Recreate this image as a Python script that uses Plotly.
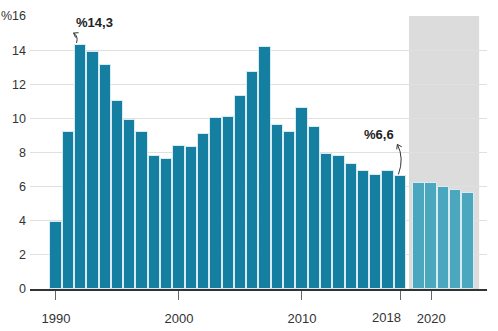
import plotly.graph_objects as go
import math

years_actual = list(range(1990, 2019))
values_actual = [3.9, 9.2, 14.3, 13.9, 13.1, 11.0, 9.9, 9.2, 7.8, 7.6,
                 8.4, 8.3, 9.1, 10.0, 10.1, 11.3, 12.7, 14.2, 9.6, 9.2,
                 10.6, 9.5, 7.9, 7.8, 7.3, 6.9, 6.7, 6.9, 6.6]
years_forecast = [2019, 2020, 2021, 2022, 2023]
values_forecast = [6.2, 6.2, 6.0, 5.8, 5.6]
forecast_gap = 0.5

x_tick_years = [1990, 2000, 2010, 2018, 2020]
y_tick_vals = [0, 2, 4, 6, 8, 10, 12, 14, 16]
y_tick_text = ["0", "2", "4", "6", "8", "10", "12", "14", "%16"]

FONT = "Liberation Sans, Arial, sans-serif"
DARK = "#147fa0"
LIGHT = "#4ba7bd"

# layout geometry
W, H = 498, 331
ML, MR, MT, MB = 30, 11, 16, 42
X0, X1 = 1987.89, 2025.04
Y0, Y1 = 0, 16
pw = W - ML - MR
ph = H - MT - MB


def px2d(px, py):
    x = X0 + (px - ML) / pw * (X1 - X0)
    y = Y1 - (py - MT) / ph * (Y1 - Y0)
    return x, y


def d2px(x, y):
    return ML + (x - X0) / (X1 - X0) * pw, MT + (Y1 - y) / (Y1 - Y0) * ph


def fx(y):
    return y + forecast_gap if y > 2018 else y


fig = go.Figure()
fig.add_trace(go.Bar(x=years_actual, y=values_actual, width=0.92,
                     marker=dict(color=DARK, line=dict(color="rgba(225,240,245,0.9)", width=1)),
                     hoverinfo="x+y"))
fig.add_trace(go.Bar(x=[fx(y) for y in years_forecast], y=values_forecast, width=0.92,
                     marker=dict(color=LIGHT, line=dict(color="rgba(225,240,245,0.9)", width=1)),
                     hoverinfo="y"))

shapes = []
# forecast band
shapes.append(dict(type="rect", xref="x", yref="y", x0=fx(2019) - 0.8, x1=fx(2023) + 0.9,
                   y0=0, y1=16, fillcolor="#dcdcdc", line=dict(width=0), layer="below"))


def curve_arrow(tail_px, ctrl_px, head_px):
    t = px2d(*tail_px)
    c = px2d(*ctrl_px)
    h = px2d(*head_px)
    path = f"M {t[0]},{t[1]} Q {c[0]},{c[1]} {h[0]},{h[1]}"
    out = [dict(type="path", xref="x", yref="y", path=path,
                line=dict(color="#333", width=1))]
    dx, dy = ctrl_px[0] - head_px[0], ctrl_px[1] - head_px[1]
    n = math.hypot(dx, dy)
    dx, dy = dx / n, dy / n
    L = 5
    pts = []
    for ang in (0.6, -0.6):
        rx = dx * math.cos(ang) - dy * math.sin(ang)
        ry = dx * math.sin(ang) + dy * math.cos(ang)
        pts.append(px2d(head_px[0] + rx * L, head_px[1] + ry * L))
    p = f"M {pts[0][0]},{pts[0][1]} L {h[0]},{h[1]} L {pts[1][0]},{pts[1][1]}"
    out.append(dict(type="path", xref="x", yref="y", path=p,
                    line=dict(color="#333", width=1)))
    return out


# arrows from the bar tops to the labels
bx, by = d2px(1992, values_actual[2])
shapes += curve_arrow((bx - 4, by - 2), (bx - 2, by - 9), (bx - 7, by - 12))
bx, by = d2px(2018, values_actual[-1])
shapes += curve_arrow((bx - 2, by - 2), (bx + 4, by - 18), (bx - 3, by - 32))

annotations = [
    dict(x=1993.13, y=15.6, xref="x", yref="y", text="<b>%14,3</b>", showarrow=False,
         font=dict(family=FONT, size=13, color="#222")),
    dict(x=2016.22, y=9.04, xref="x", yref="y", text="<b>%6,6</b>", showarrow=False,
         font=dict(family=FONT, size=13, color="#222")),
    dict(x=2021.18, y=16.5, xref="x", yref="y", text="Tahmin", showarrow=False,
         font=dict(family=FONT, size=13, color="#444")),
]

# x tick labels: 2018 is right-aligned to its tick so it does not collide with 2020
tick_text = []
for yr in x_tick_years:
    if yr == 2018:
        tick_text.append("")
        annotations.append(dict(x=fx(yr), y=1 - (317 - MT) / ph, xref="x", yref="paper",
                                text=str(yr), showarrow=False, xanchor="right", yanchor="middle",
                                xshift=3, font=dict(family=FONT, size=13, color="#333")))
    else:
        tick_text.append(str(yr))

fig.update_layout(
    width=W, height=H,
    margin=dict(l=ML, r=MR, t=MT, b=MB, autoexpand=False),
    paper_bgcolor="white", plot_bgcolor="rgba(0,0,0,0)",
    showlegend=False, barmode="overlay", bargap=0,
    font=dict(family=FONT, size=13, color="#333"),
    shapes=shapes, annotations=annotations,
    xaxis=dict(range=[X0, X1], tickmode="array", tickvals=[fx(y) for y in x_tick_years],
               ticktext=tick_text, ticks="outside", ticklen=9,
               tickcolor="#666", tickwidth=1, showgrid=False, zeroline=False,
               showline=True, linecolor="#333", linewidth=2, tickangle=0, automargin=False,
               tickfont=dict(family=FONT, size=13, color="#333"), ticklabelstandoff=7),
    yaxis=dict(range=[Y0, Y1], tickmode="array", tickvals=y_tick_vals, ticktext=y_tick_text,
               showgrid=True, gridcolor="#e0e0e0", gridwidth=1, zeroline=False, automargin=False,
               showline=False, ticks="", ticklabelstandoff=3,
               tickfont=dict(family=FONT, size=12.5, color="#333")),
)

fig.write_html("out.html")
